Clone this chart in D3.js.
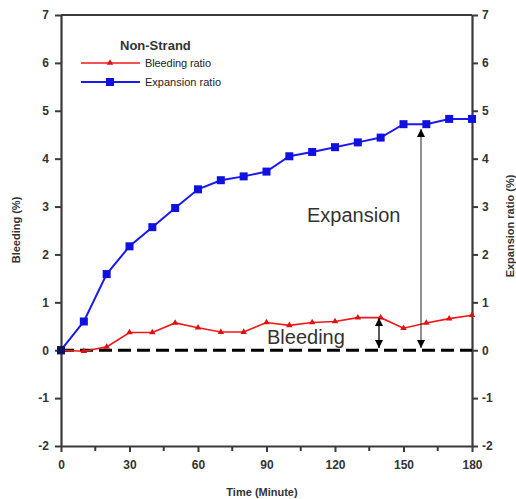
<!DOCTYPE html>
<html>
<head>
<meta charset="utf-8">
<script src="https://cdn.jsdelivr.net/npm/d3@7"></script>
<style>
  body { margin: 0; background: #fff; }
  svg { display: block; font-family: "Liberation Sans", Arial, sans-serif; }
</style>
</head>
<body>
<div class="canvas"></div>
<script>
// data
const times = [0, 10, 20, 30, 40, 50, 60, 70, 80, 90, 100, 110, 120, 130, 140, 150, 160, 170, 180]
const expansion = [0, 0.6, 1.59, 2.17, 2.57, 2.97, 3.36, 3.55, 3.63, 3.73, 4.05, 4.14, 4.24, 4.34, 4.44, 4.72, 4.72, 4.83, 4.83]
const bleeding = [0, -0.02, 0.07, 0.37, 0.37, 0.57, 0.47, 0.38, 0.38, 0.58, 0.52, 0.58, 0.6, 0.68, 0.68, 0.46, 0.57, 0.66, 0.73]
const yTicks = [-2, -1, 0, 1, 2, 3, 4, 5, 6, 7]
const xTicks = [0, 30, 60, 90, 120, 150, 180]
const xMinor = [15, 45, 75, 105, 135, 165]

const dims = { width: 516, height: 499 }
const plot = { left: 61, right: 472, top: 15, bottom: 446 }

const svg = d3.select('.canvas')
    .append('svg')
    .attr('width', dims.width)
    .attr('height', dims.height)

// scales
const x = d3.scaleLinear().domain([0, 180]).range([plot.left, plot.right])
const y = d3.scaleLinear().domain([-2, 7]).range([plot.bottom, plot.top])

const axisColor = '#3a3a3a'
const labelColor = '#333'
const plain = d => String(d)   // hyphen minus like the original

// top frame
svg.append('line')
    .attr('x1', plot.left).attr('x2', plot.right)
    .attr('y1', plot.top).attr('y2', plot.top)
    .attr('stroke', axisColor).attr('stroke-width', 2.2)

// axes
const styleAxis = g => {
    g.select('.domain').attr('stroke', axisColor).attr('stroke-width', 2.2)
    g.selectAll('.tick line').attr('stroke', axisColor).attr('stroke-width', 2)
    g.selectAll('.tick text')
        .attr('fill', labelColor)
        .attr('font-size', 12)
        .attr('font-weight', 'bold')
}

svg.append('g')
    .attr('transform', `translate(${plot.left}, 0)`)
    .call(d3.axisLeft(y).tickValues(yTicks).tickFormat(plain).tickSize(6).tickSizeOuter(0).tickPadding(6))
    .call(styleAxis)

svg.append('g')
    .attr('transform', `translate(${plot.right}, 0)`)
    .call(d3.axisRight(y).tickValues(yTicks).tickFormat(plain).tickSize(6).tickSizeOuter(0).tickPadding(4))
    .call(styleAxis)

const xAxis = svg.append('g')
    .attr('transform', `translate(0, ${plot.bottom})`)
    .call(d3.axisBottom(x).tickValues(xTicks).tickFormat(plain).tickSize(6).tickSizeOuter(0).tickPadding(8))
    .call(styleAxis)

xAxis.selectAll('.minor')
    .data(xMinor)
    .enter()
    .append('line')
    .attr('x1', d => x(d)).attr('x2', d => x(d))
    .attr('y1', 0).attr('y2', 5)
    .attr('stroke', axisColor).attr('stroke-width', 2)

// axis titles
svg.append('text')
    .attr('x', 262).attr('y', 496)
    .attr('text-anchor', 'middle')
    .attr('font-size', 11).attr('font-weight', 'bold')
    .attr('fill', labelColor)
    .text('Time (Minute)')

svg.append('text')
    .attr('transform', 'translate(20, 230) rotate(-90)')
    .attr('text-anchor', 'middle')
    .attr('font-size', 11).attr('font-weight', 'bold')
    .attr('fill', labelColor)
    .text('Bleeding (%)')

svg.append('text')
    .attr('transform', 'translate(514, 226) rotate(-90)')
    .attr('text-anchor', 'middle')
    .attr('font-size', 11).attr('font-weight', 'bold')
    .attr('fill', labelColor)
    .text('Expansion ratio (%)')

// zero dashed line
svg.append('line')
    .attr('x1', x(0)).attr('x2', x(180))
    .attr('y1', y(0)).attr('y2', y(0))
    .attr('stroke', '#000').attr('stroke-width', 3)
    .attr('stroke-dasharray', '13 6')

// lines
const line = vals => d3.line()
    .x((d, i) => x(times[i]))
    .y(d => y(d))(vals)

svg.append('path')
    .attr('d', line(bleeding))
    .attr('fill', 'none').attr('stroke', '#f01818').attr('stroke-width', 1.6)

svg.append('path')
    .attr('d', line(expansion))
    .attr('fill', 'none').attr('stroke', '#1a1aee').attr('stroke-width', 2)

const tri = d3.symbol().type(d3.symbolTriangle).size(18)
svg.selectAll('.bp')
    .data(bleeding)
    .enter()
    .append('path')
    .attr('transform', (d, i) => `translate(${x(times[i])}, ${y(d)})`)
    .attr('d', tri)
    .attr('fill', '#e01010')

svg.selectAll('.ep')
    .data(expansion)
    .enter()
    .append('rect')
    .attr('x', (d, i) => x(times[i]) - 4)
    .attr('y', d => y(d) - 4)
    .attr('width', 8).attr('height', 8)
    .attr('fill', '#1010e0')

// origin marker
svg.append('rect')
    .attr('x', x(0) - 4).attr('y', y(0) - 4)
    .attr('width', 8).attr('height', 8)
    .attr('fill', '#111160')

// legend
svg.append('text')
    .attr('x', 120).attr('y', 50)
    .attr('font-size', 13).attr('font-weight', 'bold')
    .attr('fill', labelColor)
    .text('Non-Strand')

const legend = [
    { name: 'Bleeding ratio', color: '#f01818', y: 63, mark: 'tri' },
    { name: 'Expansion ratio', color: '#1a1aee', y: 82, mark: 'sq' }
]
legend.forEach(l => {
    svg.append('line')
        .attr('x1', 81).attr('x2', 140)
        .attr('y1', l.y).attr('y2', l.y)
        .attr('stroke', l.color).attr('stroke-width', l.mark === 'sq' ? 2 : 1.6)
    if (l.mark === 'sq') {
        svg.append('rect')
            .attr('x', 106).attr('y', l.y - 4)
            .attr('width', 8).attr('height', 8)
            .attr('fill', '#1010e0')
    } else {
        svg.append('path')
            .attr('transform', `translate(110, ${l.y})`)
            .attr('d', tri)
            .attr('fill', '#e01010')
    }
    svg.append('text')
        .attr('x', 145).attr('y', l.y + 4)
        .attr('font-size', 11)
        .attr('fill', '#222')
        .attr('textLength', l.mark === 'sq' ? 76 : 66)
        .text(l.name)
})

// annotations
const defs = svg.append('defs')
defs.append('marker')
    .attr('id', 'head')
    .attr('viewBox', '0 0 10 10')
    .attr('refX', 10).attr('refY', 5)
    .attr('markerWidth', 8).attr('markerHeight', 8)
    .attr('markerUnits', 'userSpaceOnUse')
    .attr('orient', 'auto-start-reverse')
    .append('path')
    .attr('d', 'M0,0 L10,5 L0,10 Z')
    .attr('fill', '#000')

svg.append('line')
    .attr('x1', 421).attr('x2', 421)
    .attr('y1', 129).attr('y2', 348)
    .attr('stroke', '#222').attr('stroke-width', 1)
    .attr('marker-start', 'url(#head)')
    .attr('marker-end', 'url(#head)')

svg.append('line')
    .attr('x1', 379).attr('x2', 379)
    .attr('y1', 318).attr('y2', 348)
    .attr('stroke', '#222').attr('stroke-width', 1.5)
    .attr('marker-start', 'url(#head)')
    .attr('marker-end', 'url(#head)')

svg.append('text')
    .attr('x', 307).attr('y', 222)
    .attr('font-size', 20)
    .attr('fill', '#333')
    .text('Expansion')

svg.append('text')
    .attr('x', 267).attr('y', 344)
    .attr('font-size', 20)
    .attr('fill', '#333')
    .text('Bleeding')
</script>
</body>
</html>
